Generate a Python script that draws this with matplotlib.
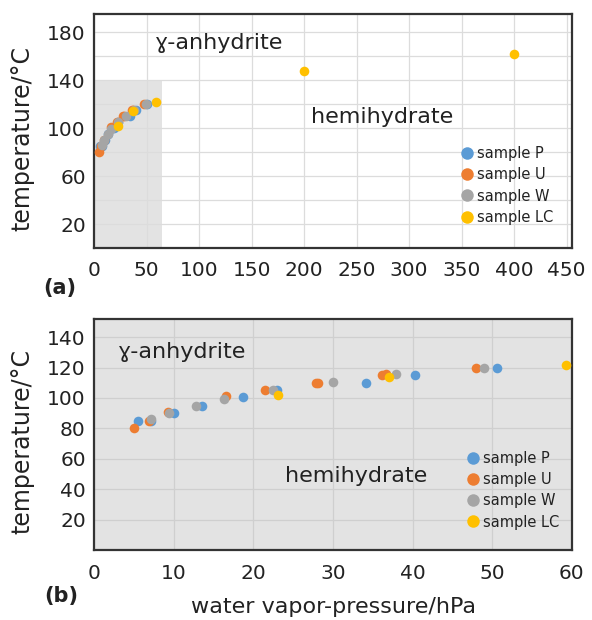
import numpy as np
import matplotlib
matplotlib.use("Agg")
import matplotlib.pyplot as plt
from matplotlib.lines import Line2D

plt.rcParams['font.family'] = ['DejaVu Sans']

# ------------------------------
# data
# ------------------------------
p_x = [5.5, 7.2, 10.0, 13.6, 18.7, 23.0, 34.2, 40.3, 50.6]
p_y = [85, 85, 90, 95, 100.5, 105, 110, 115, 120]

u_x = [5.0, 6.9, 9.3, 16.5, 21.5, 27.9, 28.1, 36.1, 36.7, 47.9]
u_y = [80, 85, 90.5, 101, 105.5, 110, 110, 115, 115.5, 120]

w_x = [7.1, 9.4, 12.8, 16.3, 22.5, 30.0, 37.9, 49.0]
w_y = [86, 90, 95, 99.5, 105.5, 110.5, 115.5, 120]

lc_x = [23.1, 37.0, 59.3, 200, 400]
lc_y = [102, 114, 122, 148, 162]

series = [
    ('sample P', p_x, p_y, '#5B9BD5'),
    ('sample U', u_x, u_y, '#ED7D31'),
    ('sample W', w_x, w_y, '#A5A5A5'),
    ('sample LC', lc_x, lc_y, '#FFC000'),
]

shade_x = 65
shade_y = 140
gray_bg = '#e3e3e3'
txt = '#222222'

fig = plt.figure(figsize=(5.92, 6.2), dpi=100)
ax1 = fig.add_axes([0.159, 0.600, 0.807, 0.377])
ax2 = fig.add_axes([0.159, 0.113, 0.807, 0.3726])


def style(ax, grid_col, pad):
    ax.set_axisbelow(True)
    ax.grid(True, which='both', color=grid_col, linewidth=0.9)
    for s in ax.spines.values():
        s.set_color('#333333')
        s.set_linewidth(1.6)
    ax.tick_params(axis='both', which='both', length=0, labelsize=14.5, colors=txt)
    ax.tick_params(axis='x', pad=pad)
    ax.tick_params(axis='y', pad=6)
    ax.set_ylabel('temperature/°C', fontsize=17, color=txt)
    ax.yaxis.set_label_coords(-0.125, 0.47)


# ------------------------------
# (a) full range
# ------------------------------
ax1.fill_between([0, shade_x], 0, shade_y, color=gray_bg, zorder=0.5, linewidth=0)
for name, x, y, c in series:
    ax1.scatter(x, y, s=48, color=c, label=name, zorder=3, linewidths=0)
ax1.set_xlim(0, 455)
ax1.set_ylim(0, 195)
ax1.set_xticks(np.arange(0, 451, 50))
ax1.set_yticks([20, 60, 100, 140, 180])
ax1.set_yticks(np.arange(0, 195, 20), minor=True)
style(ax1, '#dcdcdc', 9)
ax1.text(58, 171, 'ɣ-anhydrite', fontsize=16, va='center', color=txt)
ax1.text(207, 109.5, 'hemihydrate', fontsize=16, va='center', color=txt)
ax1.text(-0.107, -0.171, '(a)', transform=ax1.transAxes, fontsize=15,
         fontweight='bold', va='center', color=txt)

# ------------------------------
# (b) zoom 0-60 hPa
# ------------------------------
ax2.set_facecolor(gray_bg)
for name, x, y, c in series:
    ax2.scatter(x, y, s=48, color=c, label=name, zorder=3, linewidths=0)
ax2.set_xlim(0, 60)
ax2.set_ylim(0, 152)
ax2.set_xticks(np.arange(0, 61, 10))
ax2.set_yticks(np.arange(20, 141, 20))
style(ax2, '#cfcfcf', 10)
ax2.text(3.0, 130.5, 'ɣ-anhydrite', fontsize=16, va='center', color=txt)
ax2.text(24.0, 48.8, 'hemihydrate', fontsize=16, va='center', color=txt)
ax2.text(-0.105, -0.2, '(b)', transform=ax2.transAxes, fontsize=15,
         fontweight='bold', va='center', color=txt)
ax2.set_xlabel('water vapor-pressure/hPa', fontsize=16, color=txt, labelpad=10)

handles = [Line2D([], [], marker='o', linestyle='', markersize=9,
                  markerfacecolor=c, markeredgewidth=0, label=n)
           for n, _, _, c in series]
for ax, anchor in ((ax1, (0.754, 0.075)), (ax2, (0.766, 0.063))):
    ax.legend(handles=handles, loc='lower left', frameon=False, fontsize=10.5,
              handletextpad=0.15, labelspacing=0.42, borderaxespad=0.0,
              handlelength=1.0, bbox_to_anchor=anchor, labelcolor=txt)

fig.savefig('out.png', dpi=100)
